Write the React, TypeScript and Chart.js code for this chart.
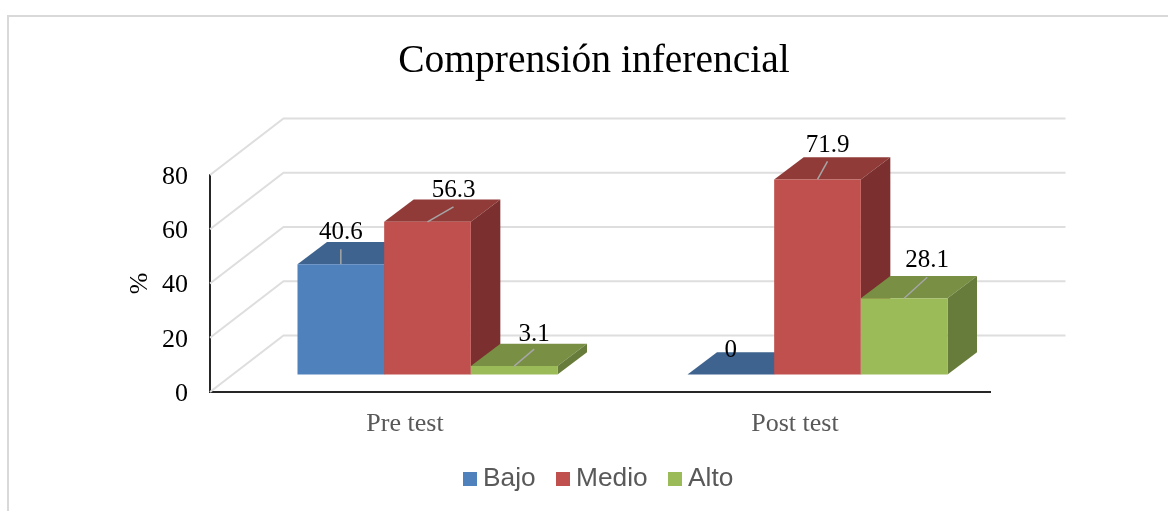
import React, { useEffect, useRef } from "react";
import { Chart, registerables } from "chart.js";

Chart.register(...registerables);

const categories = ["Pre test", "Post test"];
const seriesNames = ["Bajo", "Medio", "Alto"];
const bajo = [40.6, 0];
const medio = [56.3, 71.9];
const alto = [3.1, 28.1];
const yTicks = [0, 20, 40, 60, 80];

const frontColors = ["#4F81BD", "#C0504D", "#9BBB59"];
const topColors = ["#3E638F", "#913B39", "#788F44"];
const sideColors = ["#355376", "#7B2F2E", "#677C3A"];

// label offset from the top-front centre of the bar: [dx, dy, leader end dx, leader end dy]
const labelOffsets = [
  [[0, -32, 0, -15], [0, -24, 0, 0]],
  [[26, -31, 26, -15], [10, -34, 10, -18]],
  [[20, -32, 20, -17], [23, -38, 23, -21]],
];

const FONT_SERIF = "'Liberation Serif', serif";
const FONT_SANS = "'Liberation Sans', Arial, sans-serif";
const SHIFT = { x: 22.5, y: -17.5 };
const DEPTH = { x: 29.5, y: -22.3 };
const WALL = { x: 73.5, y: -56.5 };

const poly = (ctx: CanvasRenderingContext2D, pts: number[][], fill: string) => {
  ctx.beginPath();
  pts.forEach(([x, y], i) => (i ? ctx.lineTo(x, y) : ctx.moveTo(x, y)));
  ctx.closePath();
  ctx.fillStyle = fill;
  ctx.fill();
};

const scene = {
  id: "scene",
  beforeDraw(chart: any) {
    const { ctx, width, height } = chart;
    ctx.save();
    ctx.fillStyle = "#fff";
    ctx.fillRect(0, 0, width, height);
    ctx.strokeStyle = "#D9D9D9";
    ctx.lineWidth = 2;
    ctx.beginPath();
    ctx.moveTo(8, height);
    ctx.lineTo(8, 16);
    ctx.lineTo(width, 16);
    ctx.stroke();
    ctx.restore();
  },
  afterLayout(chart: any) {
    chart.titleBlock.left = 0;
    chart.titleBlock.right = 1188;
  },
  beforeDatasetsDraw(chart: any) {
    const { ctx, chartArea, scales } = chart;
    // back wall and side wall
    ctx.save();
    ctx.strokeStyle = "#DEDEDE";
    ctx.lineWidth = 2;
    yTicks.forEach((t) => {
      const y = scales.y.getPixelForValue(t);
      ctx.beginPath();
      ctx.moveTo(chartArea.left, y);
      ctx.lineTo(chartArea.left + WALL.x, y + WALL.y);
      ctx.lineTo(chartArea.right + WALL.x + 2, y + WALL.y);
      ctx.stroke();
    });
    ctx.restore();

    // bars, left to right so that each one covers its neighbour's side face
    ctx.save();
    ctx.translate(SHIFT.x, SHIFT.y);
    chart.data.datasets.forEach((_: any, di: number) => {
      const meta = chart.getDatasetMeta(di);
      meta.data.forEach((bar: any) => {
        const { x, y, base, width: w } = bar.getProps(["x", "y", "base", "width"], true);
        const l = x - w / 2;
        const r = x + w / 2;
        const dx = DEPTH.x;
        const dy = DEPTH.y;
        poly(ctx, [[l, y], [r, y], [r + dx, y + dy], [l + dx, y + dy]], topColors[di]);
        if (base - y > 0.5) {
          poly(ctx, [[r, y], [r, base], [r + dx, base + dy], [r + dx, y + dy]], sideColors[di]);
        }
      });
      meta.controller.draw();
    });
    ctx.restore();

    // data labels with leader lines
    ctx.save();
    chart.data.datasets.forEach((ds: any, di: number) => {
      chart.getDatasetMeta(di).data.forEach((bar: any, i: number) => {
        const x = bar.x + SHIFT.x;
        const y = bar.y + SHIFT.y;
        const [lx, ly, ex, ey] = labelOffsets[di][i];
        if (ds.data[i] !== 0) {
          ctx.strokeStyle = "#A6A6A6";
          ctx.lineWidth = 1.5;
          ctx.beginPath();
          ctx.moveTo(x, y);
          ctx.lineTo(x + ex, y + ey);
          ctx.stroke();
        }
        ctx.fillStyle = "#000";
        ctx.font = `25px ${FONT_SERIF}`;
        ctx.textAlign = "center";
        ctx.textBaseline = "middle";
        ctx.fillText(String(ds.data[i]), x + lx, y + ly);
      });
    });

    // legend
    const legendX = [463, 556, 668];
    ctx.font = `26.3px ${FONT_SANS}`;
    ctx.textAlign = "left";
    ctx.textBaseline = "middle";
    chart.data.datasets.forEach((ds: any, di: number) => {
      ctx.fillStyle = ds.backgroundColor;
      ctx.fillRect(legendX[di], 472, 14, 14);
      ctx.fillStyle = "#595959";
      ctx.fillText(ds.label, legendX[di] + 20, 479);
    });
    ctx.restore();
    return false;
  },
};

export default function App() {
  const ref = useRef<HTMLCanvasElement>(null);
  useEffect(() => {
    const series = [bajo, medio, alto];
    const chart = new Chart(ref.current!, {
      type: "bar",
      data: {
        labels: categories,
        datasets: series.map((data, i) => ({
          label: seriesNames[i],
          data,
          backgroundColor: frontColors[i],
          clip: false,
          categoryPercentage: 0.6667,
          barPercentage: 1,
        })),
      },
      options: {
        responsive: false,
        animation: false,
        layout: { padding: { left: 0, right: 178, top: 0, bottom: 0 } },
        plugins: {
          legend: { display: false },
          tooltip: { enabled: false },
          title: {
            display: true,
            text: "Comprensión inferencial",
            color: "#000",
            font: { family: FONT_SERIF, size: 39.5, weight: "normal" },
            padding: { top: 38, bottom: 89.6 },
          },
        },
        scales: {
          x: {
            afterFit: (s: any) => { s.height = 119; },
            grid: { display: false },
            border: { display: true, color: "#262626", width: 2 },
            ticks: { color: "#595959", padding: 9, font: { family: FONT_SERIF, size: 26 } },
          },
          y: {
            min: 0,
            max: 80,
            afterFit: (s: any) => { s.width = 210; },
            grid: { display: false },
            border: { display: true, color: "#262626", width: 2 },
            title: {
              display: true,
              text: "%",
              color: "#000",
              padding: { top: 125, bottom: 0 },
              font: { family: FONT_SERIF, size: 26, weight: "normal" },
            },
            ticks: {
              stepSize: 20,
              color: "#000",
              padding: 14,
              labelOffset: 2,
              font: { family: FONT_SERIF, size: 26 },
            },
          },
        },
      },
      plugins: [scene],
    } as any);
    return () => chart.destroy();
  }, []);
  return (
    <div style={{ position: "fixed", left: 0, top: 0, width: 1168, height: 511 }}>
      <canvas ref={ref} width={1168} height={511} style={{ display: "block" }} />
    </div>
  );
}
